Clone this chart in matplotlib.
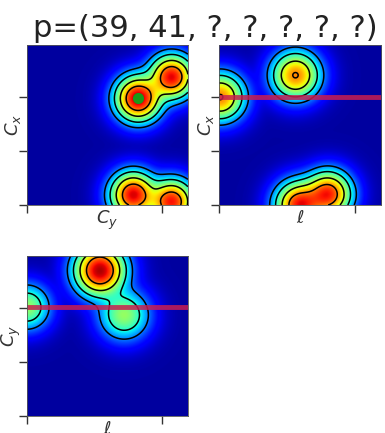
import numpy as np
import matplotlib
matplotlib.use("Agg")
import matplotlib.pyplot as plt

# peaks of each panel: centre x, centre y, height, width (data units)
p1_x = [41.2, 53.6, 39.4, 53.6]
p1_y = [39.5, 47.5, 3.7, 1.2]
p1_h = [0.93, 0.88, 0.89, 0.86]
p1_w = [6.4, 6.2, 6.4, 6.2]

p2_x = [28.1, 0.4, 29.5, 40.0]
p2_y = [48.1, 40.0, 0.0, 4.0]
p2_h = [0.738, 0.738, 0.86, 0.84]
p2_w = [6.7, 6.7, 6.6, 6.4]

p3_x = [27.0, 36.0, 0.0]
p3_y = [54.0, 37.5, 40.4]
p3_h = [0.93, 0.50, 0.50]
p3_w = [7.1, 7.0, 6.4]

# selected point p=(Cx, Cy) and red cut lines
sel_cy, sel_cx = 41.2, 39.5
cut_p2 = 40.0
cut_p3 = 40.5

xmax, ymax = 59.6, 59.3
levels = [0.25, 0.39, 0.575, 0.76]


def field(xs, ys, hs, ws):
    gx, gy = np.meshgrid(np.linspace(0, xmax, 300), np.linspace(0, ymax, 300))
    z = np.zeros_like(gx)
    for x, y, h, w in zip(xs, ys, hs, ws):
        g = h * np.exp(-((gx - x) ** 2 + (gy - y) ** 2) / (2 * w ** 2))
        z += g ** 2
    return gx, gy, np.sqrt(z) + 0.03


def panel(ax, xs, ys, hs, ws, xlabel, ylabel):
    gx, gy, z = field(xs, ys, hs, ws)
    ax.imshow(z, origin="lower", extent=(0, xmax, 0, ymax), cmap="jet",
              vmin=0, vmax=1, aspect="auto", interpolation="bilinear")
    ax.contour(gx, gy, z, levels=levels, colors="k", linewidths=1.1)
    ax.set_xlim(0, xmax)
    ax.set_ylim(0, ymax)
    ax.set_xticks([0, 50])
    ax.set_yticks([0, 20, 40])
    ax.tick_params(length=6, width=1, labelbottom=False, labelleft=False,
                   color="#333333")
    ax.set_xlabel(xlabel, fontsize=13, labelpad=-3, color="#333333")
    ax.set_ylabel(ylabel, fontsize=13, labelpad=-3.5, color="#333333")
    for s in ax.spines.values():
        s.set_linewidth(0.6)
        s.set_color("#555555")


fig = plt.figure(figsize=(3.85, 4.33), dpi=100)
ax1 = fig.add_axes([0.070, 0.5266, 0.418, 0.3695])
ax2 = fig.add_axes([0.569, 0.5266, 0.421, 0.3695])
ax3 = fig.add_axes([0.070, 0.0390, 0.418, 0.3695])

panel(ax1, p1_x, p1_y, p1_h, p1_w, "$C_y$", "$C_x$")
ax1.plot([sel_cy], [sel_cx], "o", color="#1a9a1a", markersize=7)

panel(ax2, p2_x, p2_y, p2_h, p2_w, r"$\ell$", "$C_x$")
ax2.axhline(cut_p2, color="#c81e50", lw=3.5, alpha=0.85)

panel(ax3, p3_x, p3_y, p3_h, p3_w, r"$\ell$", "$C_y$")
ax3.axhline(cut_p3, color="#c81e50", lw=3.5, alpha=0.85)

fig.text(0.532, 0.935, "p=(39, 41, ?, ?, ?, ?, ?)", ha="center", va="center",
         fontsize=22, color="#222222")

fig.savefig("out.png", dpi=100)
